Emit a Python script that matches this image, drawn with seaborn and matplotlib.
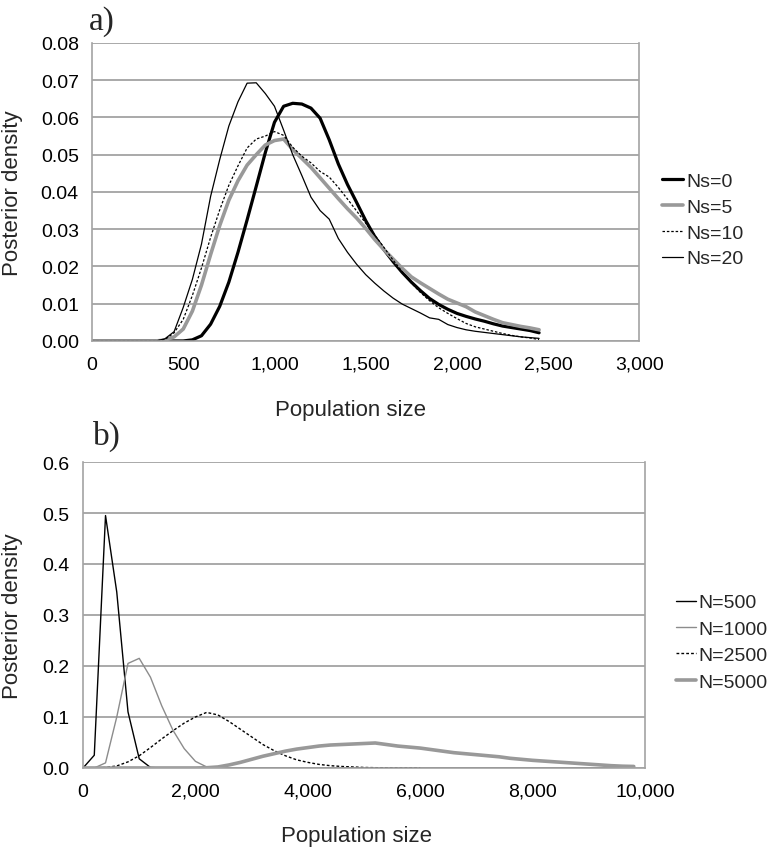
import numpy as np
import pandas as pd
import matplotlib.pyplot as plt
import seaborn as sns

# --- panel a: posterior density, population size step 50 ---
pop_a = np.arange(0, 2451, 50)
ns0 = [0.0] * 11 + [
    0.0003, 0.0014, 0.0045, 0.0093, 0.0158, 0.0238, 0.0325, 0.0415, 0.0506, 0.0587,
    0.0630, 0.0638, 0.0636, 0.0625, 0.0598, 0.0540, 0.0475, 0.0420, 0.0372, 0.0323,
    0.0280, 0.0245, 0.0213, 0.0184, 0.0158, 0.0135, 0.0114, 0.0098, 0.0085, 0.0074,
    0.0066, 0.0059, 0.0053, 0.0046, 0.0040, 0.0036, 0.0032, 0.0028, 0.0022]
ns5 = [0.0] * 8 + [
    0.0002, 0.0011, 0.0032, 0.0080, 0.0150, 0.0232, 0.0310, 0.0378, 0.0430, 0.0472,
    0.0500, 0.0526, 0.0538, 0.0542, 0.0514, 0.0490, 0.0466, 0.0438, 0.0410, 0.0382,
    0.0355, 0.0330, 0.0302, 0.0272, 0.0245, 0.0220, 0.0195, 0.0172, 0.0156, 0.0141,
    0.0126, 0.0112, 0.0102, 0.0092, 0.0078, 0.0068, 0.0058, 0.0049, 0.0044, 0.0039,
    0.0035, 0.0030]
ns10 = [0.0] * 8 + [
    0.0004, 0.0022, 0.0058, 0.0122, 0.0196, 0.0278, 0.0352, 0.0418, 0.0470, 0.0518,
    0.0542, 0.0550, 0.0562, 0.0552, 0.0520, 0.0496, 0.0478, 0.0455, 0.0440, 0.0412,
    0.0381, 0.0349, 0.0316, 0.0284, 0.0251, 0.0217, 0.0186, 0.0156, 0.0130, 0.0108,
    0.0089, 0.0074, 0.0060, 0.0047, 0.0038, 0.0032, 0.0026, 0.0020, 0.0015, 0.0011,
    0.0008, 0.0004]
ns20 = [0.0] * 8 + [
    0.0006, 0.0025, 0.0090, 0.0165, 0.0260, 0.0388, 0.0487, 0.0577, 0.0642, 0.0692,
    0.0693, 0.0664, 0.0630, 0.0566, 0.0500, 0.0444, 0.0386, 0.0350, 0.0327, 0.0275,
    0.0238, 0.0206, 0.0178, 0.0155, 0.0134, 0.0115, 0.0099, 0.0087, 0.0075, 0.0062,
    0.0058, 0.0044, 0.0036, 0.0030, 0.0026, 0.0023, 0.0020, 0.0017, 0.0014, 0.0011,
    0.0009, 0.0007]

# --- panel b: population size step 200 ---
pop_b = np.arange(0, 9801, 200)
n500 = [0.0, 0.025, 0.495, 0.345, 0.11, 0.018, 0.001] + [0.0] * 43
n1000 = [0.0, 0.0, 0.01, 0.10, 0.205, 0.215, 0.178, 0.122, 0.074, 0.038,
         0.013, 0.002, 0.0003] + [0.0] * 37
n2500 = [0.0, 0.0, 0.001, 0.004, 0.012, 0.024, 0.040, 0.057, 0.073, 0.088,
         0.100, 0.109, 0.104, 0.091, 0.076, 0.061, 0.046, 0.034, 0.024, 0.016,
         0.011, 0.007, 0.0045, 0.003, 0.002, 0.001, 0.0006, 0.0003, 0.0002, 0.0001,
         0.0] + [np.nan] * 19
n5000 = [0.0] * 11 + [
    0.0005, 0.002, 0.006, 0.011, 0.017, 0.023, 0.028, 0.033, 0.037, 0.040,
    0.043, 0.045, 0.046, 0.047, 0.048, 0.049, 0.046, 0.043, 0.041, 0.039,
    0.036, 0.033, 0.030, 0.028, 0.026, 0.024, 0.022, 0.019, 0.017, 0.015,
    0.0135, 0.012, 0.0105, 0.009, 0.0075, 0.006, 0.0045, 0.0035, 0.003]

yticks_a = [0.00, 0.01, 0.02, 0.03, 0.04, 0.05, 0.06, 0.07, 0.08]
xticks_a = [0, 500, 1000, 1500, 2000, 2500, 3000]
yticks_b = [0.0, 0.1, 0.2, 0.3, 0.4, 0.5, 0.6]
xticks_b = [0, 2000, 4000, 6000, 8000, 10000]

sns.set_theme(style="white")
plt.rcParams['font.family'] = ['Liberation Sans', 'DejaVu Sans']

grid_col = "#a3a3a3"
fig = plt.figure(figsize=(7.71, 8.53), dpi=100)
ax_a = fig.add_axes([0.1193, 0.5991, 0.7101, 0.3494])
ax_b = fig.add_axes([0.1077, 0.0985, 0.7289, 0.3587])

# --- panel a lines ---
sns.lineplot(x=pop_a, y=ns0, ax=ax_a, color="black", lw=2.3, label="Ns=0")
sns.lineplot(x=pop_a, y=ns5, ax=ax_a, color="#999999", lw=2.6, label="Ns=5")
sns.lineplot(x=pop_a, y=ns10, ax=ax_a, color="black", lw=0.9, linestyle=(0, (2, 1.5)), label="Ns=10")
sns.lineplot(x=pop_a, y=ns20, ax=ax_a, color="black", lw=0.9, label="Ns=20")

# --- panel b lines ---
sns.lineplot(x=pop_b, y=n500, ax=ax_b, color="black", lw=1.0, label="N=500")
sns.lineplot(x=pop_b, y=n1000, ax=ax_b, color="#8c8c8c", lw=1.0, label="N=1000")
sns.lineplot(x=pop_b, y=n2500, ax=ax_b, color="black", lw=1.0, linestyle=(0, (2, 1.5)), label="N=2500")
sns.lineplot(x=pop_b, y=n5000, ax=ax_b, color="#999999", lw=2.6, label="N=5000")


def style_axes(ax, xt, yt, xfmt, yfmt):
    ax.set_xlim(xt[0], xt[-1])
    ax.set_ylim(yt[0], yt[-1])
    ax.set_xticks(xt)
    ax.set_yticks(yt)
    ax.set_xticklabels([xfmt.format(v) for v in xt])
    ax.set_yticklabels([yfmt.format(v) for v in yt])
    ax.yaxis.grid(True, color=grid_col, lw=1.3)
    ax.xaxis.grid(False)
    ax.set_axisbelow(True)
    for side in ["left", "right", "bottom"]:
        ax.spines[side].set_color(grid_col)
        ax.spines[side].set_linewidth(1.2)
    ax.spines["top"].set_visible(False)
    ax.tick_params(axis="both", which="major", direction="out", length=5.5, width=1.0,
                   color=grid_col, labelsize=14, labelcolor="black", pad=4)
    ax.tick_params(axis="x", pad=5)


style_axes(ax_a, xticks_a, yticks_a, "{:,.0f}", "{:.2f}")
style_axes(ax_b, xticks_b, yticks_b, "{:,.0f}", "{:.1f}")

ax_a.set_xlabel("Population size", fontsize=16)
ax_a.set_ylabel("Posterior density", fontsize=16)
ax_a.xaxis.set_label_coords(0.473, -0.195)
ax_a.yaxis.set_label_coords(-0.126, 0.5)
ax_b.set_xlabel("Population size", fontsize=16)
ax_b.set_ylabel("Posterior density", fontsize=16)
ax_b.xaxis.set_label_coords(0.487, -0.187)
ax_b.yaxis.set_label_coords(-0.107, 0.5)

ax_a.legend(loc="center left", bbox_to_anchor=(0.848, 0.741), bbox_transform=fig.transFigure,
            frameon=False, fontsize=14, handlelength=1.1, handletextpad=0.15, labelspacing=0.42,
            borderaxespad=0)
ax_b.legend(loc="center left", bbox_to_anchor=(0.867, 0.246), bbox_transform=fig.transFigure,
            frameon=False, fontsize=14, handlelength=1.0, handletextpad=0.15, labelspacing=0.45,
            borderaxespad=0)

fig.text(0.132, 0.975, "a)", family="Liberation Serif", fontsize=24, ha="center", va="center")
fig.text(0.139, 0.489, "b)", family="Liberation Serif", fontsize=24, ha="center", va="center")

fig.savefig("out.png", dpi=100, facecolor="white")
